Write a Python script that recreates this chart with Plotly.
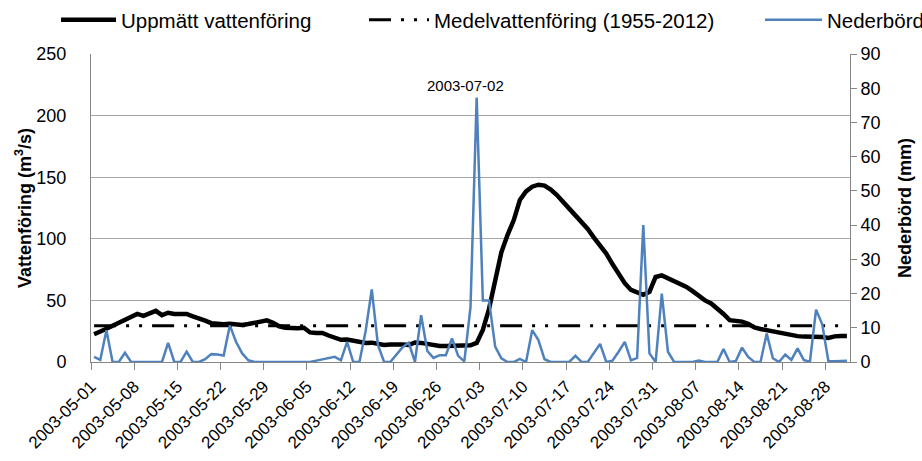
import plotly.graph_objects as go
import pandas as pd

# ---- data ----
start_date = "2003-05-01"
end_date = "2003-08-31"
dates = pd.date_range(start_date, end_date, freq="D")

# Uppmätt vattenföring (m3/s), daily
flow = [22.5, 24.5, 27, 29.5, 32, 34.5, 36.5, 39, 37.5, 39.8,
        41.5, 38, 40, 39, 39, 39, 37, 35.5, 33.5, 31.5,
        30.8, 30.6, 31, 30.5, 30, 30.8, 32, 33, 33.8, 31.8,
        29, 27.8, 27.4, 27.4, 27.8, 24, 23.5, 23.6, 21.5, 19.5,
        18, 18.2, 17, 15.7, 15.4, 15.7, 14.6, 13.8, 14.2, 14.6,
        14.2, 13.8, 15.8, 15.5, 14.6, 13.8, 13, 13, 13, 13,
        13, 13.5, 15.5, 26, 43, 66, 89, 103, 115, 131.5,
        138.5, 142.3, 143.9, 143.2, 140, 135.5, 129.5, 124.5, 119, 113.5,
        108, 101, 94.5, 88, 79.5, 71.5, 64, 58.5, 56, 54.5,
        57, 69, 70.3, 68, 65, 62.8, 61, 57.5, 53.5, 50,
        47.5, 43.8, 39, 34, 33.2, 32.8, 31, 28, 26.8, 25.8,
        25.2, 24, 22.5, 21.5, 21, 20.6, 20.6, 20.6, 20.2, 19.5,
        20.8, 21.1, 21.1]

# Medelvattenföring (1955-2012), m3/s
mean_flow = 29.5

# Nederbörd (mm), daily
precip = [1.5, 0.6, 9.3, 0, 0, 2.7, 0, 0, 0, 0,
          0, 0, 5.6, 0, 0, 3.0, 0, 0, 0.8, 2.3,
          2.2, 1.9, 10.7, 5.9, 2.5, 0.5, 0, 0, 0, 0,
          0, 0, 0, 0, 0, 0, 0.4, 0.8, 1.2, 1.5,
          0.5, 5.9, 0, 0, 9.0, 21.2, 5.0, 0, 0, 2.3,
          4.3, 5.6, 0, 13.7, 3.2, 1.2, 2.0, 2.0, 6.9, 1.8,
          0.2, 16.0, 77.3, 18.0, 18.0, 4.5, 1.1, 0, 0, 0.9,
          0, 9.3, 6.4, 0.8, 0, 0, 0, 0, 1.8, 0,
          0, 2.6, 5.3, 0, 0.4, 3.0, 5.9, 0.5, 1.2, 40.0,
          2.5, 0, 20.0, 3.0, 0, 0, 0, 0, 0.4, 0,
          0, 0, 3.8, 0, 0.3, 4.2, 1.5, 0, 0, 8.3,
          1.1, 0, 2.2, 0.6, 4.0, 0.6, 0, 15.3, 11.0, 0.2,
          0.2, 0.3, 0.4]

series_names = ["Uppmätt vattenföring", "Medelvattenföring (1955-2012)", "Nederbörd"]
y1_title = "Vattenföring (m<sup>3</sup>/s)"
y2_title = "Nederbörd (mm)"

DAY_MS = 86400000
FONT = "Liberation Sans, Arial, sans-serif"
AXIS_GRAY = "#868686"
GRID_GRAY = "#a6a6a6"
BLUE = "#4f81bd"

fig = go.Figure()

fig.add_trace(go.Scatter(
    x=dates, y=flow, mode="lines", name=series_names[0],
    line=dict(color="black", width=4.5),
    xperiod=DAY_MS, xperiodalignment="middle",
    legend="legend", showlegend=True))

fig.add_trace(go.Scatter(
    x=dates, y=[mean_flow] * len(dates), mode="lines", name=series_names[1],
    line=dict(color="black", width=3, dash="22px,10px,3px,10px,3px,10px"),
    xperiod=DAY_MS, xperiodalignment="middle",
    legend="legend2", showlegend=True))

fig.add_trace(go.Scatter(
    x=dates, y=precip, mode="lines", name=series_names[2],
    line=dict(color=BLUE, width=2.5),
    xperiod=DAY_MS, xperiodalignment="middle", yaxis="y2",
    legend="legend3", showlegend=True))

peak = precip.index(max(precip))
fig.add_annotation(
    x=dates[peak] + pd.Timedelta(hours=12), y=precip[peak], xref="x", yref="y2",
    text=dates[peak].strftime("%Y-%m-%d"), showarrow=False,
    yanchor="bottom", yshift=1, xshift=-11,
    font=dict(family=FONT, size=15, color="black"))

legend_common = dict(orientation="h", xref="container", yref="container",
                     yanchor="top", bgcolor="rgba(0,0,0,0)", visible=True,
                     font=dict(family=FONT, size=20.5, color="black"))
LEG_Y = 1.0

fig.update_layout(
    width=922, height=461,
    margin=dict(l=91, r=72, t=54, b=99, autoexpand=False),
    paper_bgcolor="white", plot_bgcolor="white",
    showlegend=True,
    font=dict(family=FONT, size=18, color="black"),
    legend=dict(x=56 / 922, y=LEG_Y, itemwidth=55, **legend_common),
    legend2=dict(x=364 / 922, y=LEG_Y, itemwidth=60, **legend_common),
    legend3=dict(x=760 / 922, y=LEG_Y, itemwidth=57, **legend_common),
    xaxis=dict(
        type="date", range=[start_date, "2003-09-01"], automargin=False,
        tick0=start_date, dtick=7 * DAY_MS, tickformat="%Y-%m-%d",
        tickangle=-45, ticks="outside", ticklen=7, tickcolor=AXIS_GRAY,
        showline=True, linecolor=AXIS_GRAY, linewidth=1,
        showgrid=False, zeroline=False,
        tickfont=dict(family=FONT, size=17, color="black")),
    yaxis=dict(
        range=[0, 250], dtick=50, showgrid=True, gridcolor=GRID_GRAY, gridwidth=1,
        zeroline=False, showline=True, linecolor=AXIS_GRAY, automargin=False,
        ticks="outside", ticklen=20, tickcolor="rgba(0,0,0,0)",
        tickfont=dict(family=FONT, size=18, color="black"),
        title=dict(text="<b>" + y1_title + "</b>", standoff=0,
                   font=dict(family=FONT, size=18, color="black"))),
    yaxis2=dict(
        overlaying="y", side="right", range=[0, 90], dtick=10, automargin=False,
        showgrid=False, zeroline=False, showline=True, linecolor=AXIS_GRAY,
        ticks="outside", ticklen=6, tickcolor=AXIS_GRAY,
        tickfont=dict(family=FONT, size=18, color="black"),
        title=dict(text="<b>" + y2_title + "</b>", standoff=18,
                   font=dict(family=FONT, size=18, color="black"))),
)

fig.write_html("out.html",
               config={"displayModeBar": False},
               post_script="document.body.style.margin='0px';")
